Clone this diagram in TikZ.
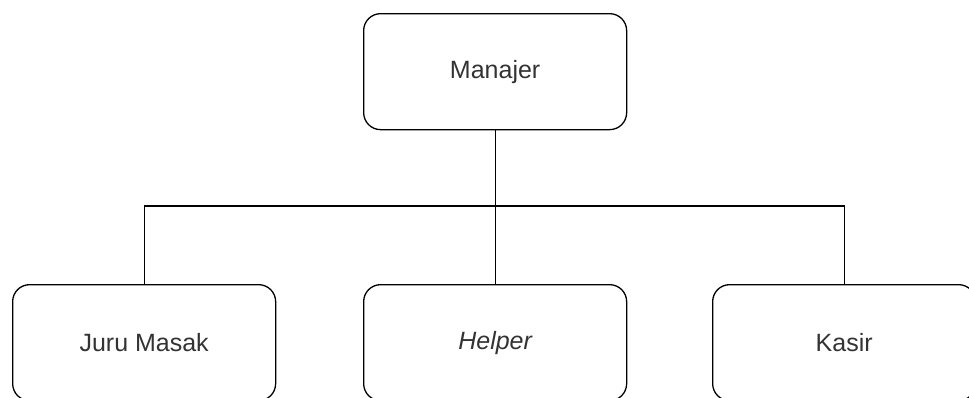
\documentclass[tikz,border=0pt]{standalone}
\usepackage{fontspec}
\setmainfont{Liberation Sans}
\definecolor{txt}{HTML}{333333}
\tikzset{
  box/.style={draw=black, line width=1.3pt, rounded corners=17pt, minimum width=263pt, minimum height=116pt, inner sep=0pt, text=txt, font=\fontsize{25}{30}\selectfont, anchor=north west},
  link/.style={draw=black, line width=1.3pt}
}
\begin{document}
\begin{tikzpicture}[x=1pt,y=-1pt]
\useasboundingbox (0,0) rectangle (969,397);
\clip (0,0) rectangle (969,397);
\node[box] (man) at (363,13) {Manajer};
\node[box] (juru) at (12,284) {Juru Masak};
\node[box] (help) at (363,284) {\itshape Helper};
\node[box] (kas) at (712,284) {Kasir};
\coordinate (bus) at (494,206);
\draw[link] (man.south) -- (help.north);
\draw[link] (juru.north) |- (bus) -| (kas.north);
\end{tikzpicture}
\end{document}
